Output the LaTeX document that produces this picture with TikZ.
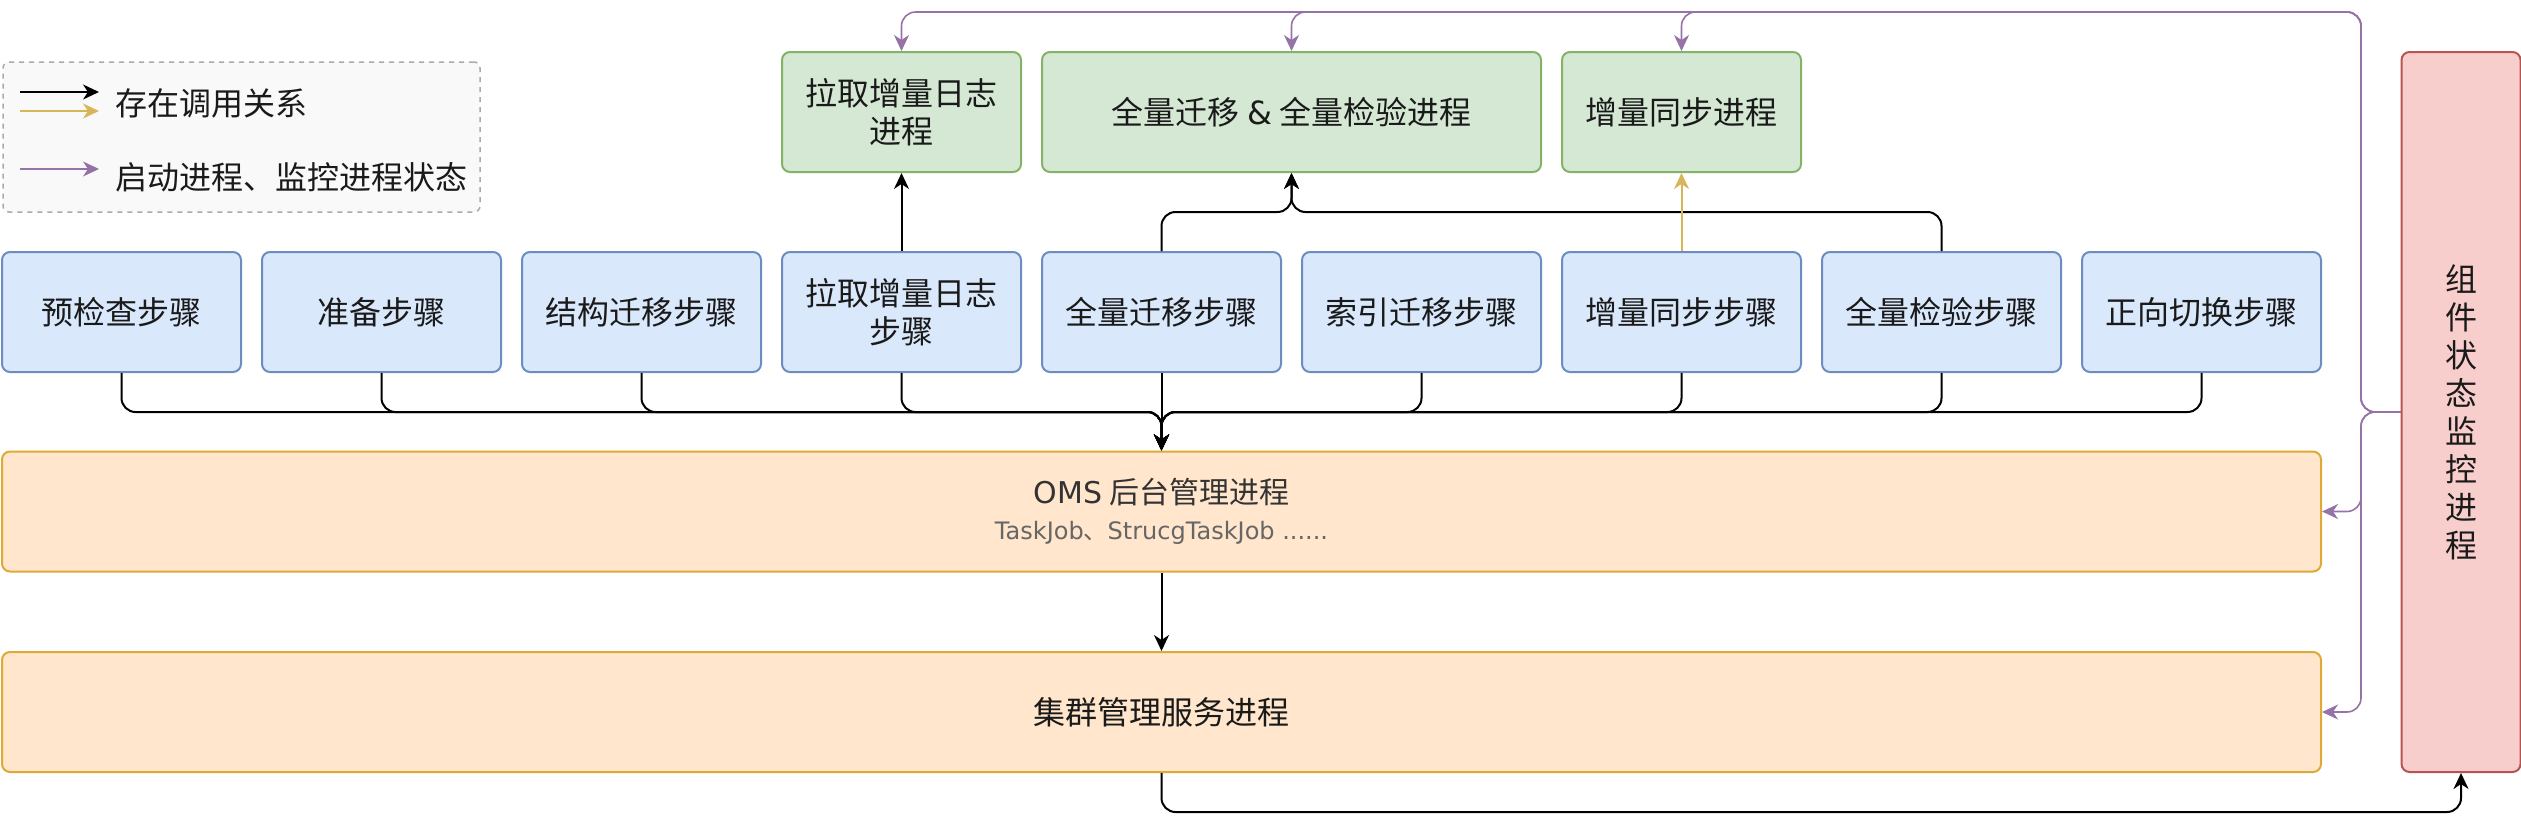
\documentclass[tikz,border=0pt]{standalone}
\usepackage{fontspec}
\setmainfont{Noto Sans CJK SC}
\newfontfamily\latfont{DejaVu Sans}
\usetikzlibrary{arrows.meta}

\definecolor{bluefill}{HTML}{DAE8FC}
\definecolor{blueline}{HTML}{6C8EBF}
\definecolor{greenfill}{HTML}{D5E8D4}
\definecolor{greenline}{HTML}{82B366}
\definecolor{orangefill}{HTML}{FFE6CC}
\definecolor{orangeline}{HTML}{DFA935}
\definecolor{redfill}{HTML}{F8CECC}
\definecolor{redline}{HTML}{B85450}
\definecolor{purpleline}{HTML}{9673A6}
\definecolor{yellowline}{HTML}{D6B656}
\definecolor{legendfill}{HTML}{F9F9F9}
\definecolor{legendline}{HTML}{AAAAAA}
\definecolor{txtdark}{HTML}{1A1A1A}
\definecolor{txtgrey}{HTML}{333333}
\definecolor{txtlight}{HTML}{666666}

\begin{document}
\begin{tikzpicture}[x=1pt,y=-1pt,line width=2pt,
  box/.style={rounded corners=8pt,inner sep=0pt,align=center,text=txtdark,
    font=\fontsize{32}{38}\selectfont},
  stepbox/.style={box,draw=blueline,fill=bluefill,minimum width=239pt,minimum height=120pt},
  procbox/.style={box,draw=greenline,fill=greenfill,minimum height=120pt},
  svcbox/.style={box,draw=orangeline,fill=orangefill,minimum width=2319pt,minimum height=120pt},
  call/.style={-{Stealth[length=16pt,width=15pt,inset=5pt]},rounded corners=14pt,draw=black},
  callyellow/.style={call,draw=yellowline,fill=yellowline},
  watch/.style={call,draw=purpleline,line width=1.6pt}]

\useasboundingbox (0,0) rectangle (2521,820);

% legend
\node[draw=legendline,fill=legendfill,dash pattern=on 5pt off 5pt,rounded corners=6pt,
  line width=1.5pt,minimum width=477pt,minimum height=150pt] (legend) at (241.5,137) {};
\coordinate (k1a) at (20,92);  \coordinate (k1b) at (99,92);
\coordinate (k2a) at (20,111); \coordinate (k2b) at (99,111);
\coordinate (k3a) at (20,169); \coordinate (k3b) at (99,169);
\draw[call] (k1a) -- (k1b);
\draw[callyellow] (k2a) -- (k2b);
\draw[watch] (k3a) -- (k3b);
\node[anchor=west,inner sep=0pt,text=txtdark,font=\fontsize{32}{38}\selectfont] (lcall) at (114,103) {存在调用关系};
\node[anchor=west,inner sep=0pt,text=txtdark,font=\fontsize{32}{38}\selectfont] (lwatch) at (114,177) {启动进程、监控进程状态};

% steps
\node[stepbox] (s1) at (121.5,312) {预检查步骤};
\node[stepbox] (s2) at (381.5,312) {准备步骤};
\node[stepbox] (s3) at (641.5,312) {结构迁移步骤};
\node[stepbox] (s4) at (901.5,312) {拉取增量日志\\步骤};
\node[stepbox] (s5) at (1161.5,312) {全量迁移步骤};
\node[stepbox] (s6) at (1421.5,312) {索引迁移步骤};
\node[stepbox] (s7) at (1681.5,312) {增量同步步骤};
\node[stepbox] (s8) at (1941.5,312) {全量检验步骤};
\node[stepbox] (s9) at (2201.5,312) {正向切换步骤};

% processes
\node[procbox,minimum width=239pt] (g1) at (901.5,112) {拉取增量日志\\进程};
\node[procbox,minimum width=499pt] (g2) at (1291.5,112) {全量迁移 {\latfont\&} 全量检验进程};
\node[procbox,minimum width=239pt] (g3) at (1681.5,112) {增量同步进程};

\node[svcbox,text=txtgrey] (oms) at (1161.5,511.5) {{\fontsize{30}{36}\selectfont{\latfont OMS} 后台管理进程}\\[-2pt]
  {\color{txtlight}\fontsize{24}{30}\selectfont\latfont TaskJob{\fontspec{Noto Sans CJK SC}、}StrucgTaskJob ......}};
\node[svcbox] (cluster) at (1161.5,712) {集群管理服务进程};

\node[box,draw=redline,fill=redfill,minimum width=119pt,minimum height=720pt] (monitor) at (2461,412)
  {组\\件\\状\\态\\监\\控\\进\\程};

% calls
\coordinate (bus) at (1161.5,412);
\coordinate (gj) at (1291.5,212);
\coordinate (low) at (1161.5,812);
\foreach \i in {1,2,3,4,6,7,8,9}
  \draw[call] (s\i.south) |- (bus) -- (oms.north);
\draw[call] (s5.south) -- (oms.north);
\draw[call] (s4.north) -- (g1.south);
\draw[call] (s5.north) |- (gj) -- (g2.south);
\draw[call] (s8.north) |- (gj) -- (g2.south);
\draw[callyellow] (s7.north) -- (g3.south);
\draw[call] (oms.south) -- (cluster.north);
\draw[call] (cluster.south) -- (low) -| (monitor.south);

% monitor lines
\coordinate (vmid) at (2361,412);
\coordinate (vtop) at (2361,12);
\draw[watch] (monitor.west) -- (vmid) -- (vtop) -| (g1.north);
\draw[watch] (monitor.west) -- (vmid) -- (vtop) -| (g2.north);
\draw[watch] (monitor.west) -- (vmid) -- (vtop) -| (g3.north);
\draw[watch] (monitor.west) -- (vmid) |- (oms.east);
\draw[watch] (monitor.west) -- (vmid) |- (cluster.east);

\end{tikzpicture}
\end{document}
